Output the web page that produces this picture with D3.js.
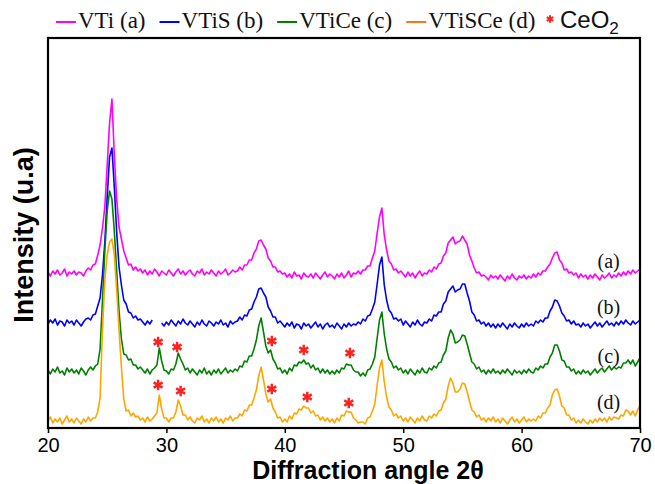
<!DOCTYPE html>
<html>
<head>
<meta charset="utf-8">
<script src="https://cdn.jsdelivr.net/npm/d3@7"></script>
<style>
  body { margin: 0; background: #fff; }
</style>
</head>
<body>
<div id="chart"></div>
<script>
// 2theta grid: 20..70 deg, 0.2 deg step
var angles = d3.range(251).map(function(i) { return +(20 + i * 0.2).toFixed(1); });

// intensities (u.a), stacked patterns
var vti = [
  156,152,157,154,158,153,155,159,152,156,
  154,157,153,156,155,152,157,160,158,163,
  164,173,183,200,221,263,305,329,273,229,
  201,189,177,170,163,164,158,161,157,159,
  155,158,153,157,154,159,156,152,157,155,
  153,158,155,152,156,159,154,157,153,156,
  158,154,152,157,155,159,153,156,154,158,
  155,152,157,154,156,159,153,155,158,156,
  157,161,158,163,163,168,168,175,179,187,
  188,183,179,170,167,161,161,156,157,154,
  155,151,154,150,156,152,153,149,155,152,
  151,154,150,155,152,149,153,156,151,154,
  152,149,154,151,155,150,153,157,151,155,
  154,157,154,158,158,162,162,170,177,195,
  211,220,193,178,167,164,158,159,155,157,
  154,151,156,152,155,150,154,157,152,155,
  154,158,156,161,159,164,165,172,175,185,
  188,191,184,186,187,192,188,184,173,167,
  160,155,156,152,153,151,148,153,150,152,
  149,153,150,147,152,149,154,150,148,152,
  150,153,149,152,150,154,151,155,153,157,
  157,161,164,170,175,176,168,165,158,159,
  155,156,153,155,150,154,151,153,149,153,
  150,154,151,148,153,150,152,155,150,153,
  151,155,152,156,153,157,154,158,155,157,
  159
];
var vtis = [
  104,108,105,109,103,107,106,102,108,105,
  107,103,108,105,102,106,109,110,108,113,
  114,122,130,153,186,231,271,280,241,196,
  161,143,128,124,116,115,110,112,108,109,
  106,103,107,104,108,null,null,null,105,102,
  106,103,108,105,102,107,104,109,105,103,
  107,104,101,106,103,108,104,102,107,105,
  102,106,104,108,103,105,101,107,104,106,
  107,111,108,113,112,118,119,126,131,139,
  140,135,131,121,117,111,111,105,107,104,
  101,105,102,106,100,104,103,99,105,102,
  104,100,103,106,101,104,99,103,105,101,
  103,100,105,102,99,104,101,105,102,104,
  103,106,104,109,107,112,113,119,126,144,
  163,171,143,128,118,115,109,110,107,109,
  103,107,104,101,106,103,108,104,102,106,
  105,109,107,113,112,116,116,124,127,136,
  139,142,136,138,139,144,144,135,127,116,
  113,107,108,104,106,102,105,101,104,100,
  104,101,105,102,99,104,101,105,102,100,
  104,101,105,102,104,102,107,105,108,106,
  110,110,117,121,128,127,122,115,112,107,
  108,104,107,103,104,101,105,102,104,100,
  103,106,102,105,101,104,107,103,105,102,
  106,103,107,104,108,105,103,107,104,106,
  108
];
var vtice = [
  58,54,59,56,61,55,57,53,60,56,
  59,55,58,54,60,57,53,58,61,58,
  62,64,79,127,177,217,237,229,197,157,
  117,89,74,73,68,69,63,63,59,61,
  58,55,59,54,58,60,63,80,67,58,
  57,54,59,58,64,75,69,64,58,60,
  55,59,56,53,58,55,60,54,57,53,
  58,55,59,54,57,60,55,58,56,59,
  57,62,61,67,66,72,72,79,88,102,
  110,96,82,75,78,69,65,59,60,55,
  58,54,60,57,63,62,66,65,68,64,
  65,60,63,58,60,55,59,55,58,54,
  57,54,58,55,60,59,64,63,63,58,
  56,56,52,55,52,58,59,64,71,90,
  108,116,94,79,69,66,60,62,58,60,
  55,58,54,59,56,53,58,55,60,56,
  55,60,58,62,60,65,66,73,77,90,
  98,94,85,86,88,93,92,84,75,66,
  64,59,61,56,58,54,58,55,59,55,
  57,54,58,55,59,56,53,58,55,57,
  54,58,55,59,56,55,60,58,62,60,
  64,64,71,75,83,83,77,68,67,61,
  61,57,59,54,57,54,58,55,57,53,
  56,59,55,58,60,56,59,62,58,61,
  59,61,60,65,65,68,64,68,62,66,
  70
];
var vtisce = [
  7,11,5,9,6,10,4,8,12,6,
  9,5,10,7,4,9,6,11,7,10,
  10,16,30,98,148,173,186,189,173,138,
  98,61,29,17,18,12,15,11,12,8,
  10,6,11,7,9,12,15,33,19,10,
  10,6,10,10,16,28,22,13,13,8,
  11,7,5,10,8,12,6,9,5,10,
  7,11,6,9,5,10,8,12,7,10,
  10,14,12,18,17,23,23,30,38,52,
  61,48,34,26,29,20,16,10,11,6,
  9,6,12,9,15,14,19,18,22,20,
  20,15,17,12,13,8,11,7,10,6,
  9,5,10,7,13,12,17,16,16,10,
  8,5,6,6,4,10,11,17,24,43,
  60,68,46,31,21,18,12,14,10,12,
  7,10,6,11,8,5,10,7,12,8,
  7,12,10,14,12,17,18,25,29,42,
  50,45,36,36,39,45,44,36,27,18,
  16,11,13,8,10,6,10,7,11,6,
  9,5,10,7,4,8,11,6,9,5,
  8,11,6,9,7,9,7,12,10,15,
  15,20,23,33,38,39,32,22,20,13,
  13,8,10,5,8,5,9,6,4,8,
  5,9,6,10,7,10,6,11,8,11,
  10,9,13,12,18,17,13,17,12,18,
  22
];

var seriesNames = ['VTi (a)', 'VTiS (b)', 'VTiCe (c)', 'VTiSCe (d)'];
var seriesColors = ['#ff00ff', '#0000ff', '#008000', '#ffa500'];
var legendColors = ['#ff00ff', '#0000ff', '#008000', '#ff7020'];

// CeO2 reflections marked with stars (angle, level)
var ceAnglesC = [29.3, 30.9, 38.9, 41.6, 45.5];
var ceLevelsC = [86, 81, 87, 78, 75];
var ceAnglesD = [29.3, 31.2, 38.9, 41.9, 45.4];
var ceLevelsD = [43, 37, 39, 31, 25];

var curveLabels = ['(a)', '(b)', '(c)', '(d)'];
var curveLabelLevels = [160, 114, 65, 19];
var curveLabelAngle = 67.35;

var xTicks = [20, 30, 40, 50, 60, 70];

var fullWidth = 655, fullHeight = 484;
var margin = {top: 38, right: 15, bottom: 56, left: 48};
var width = fullWidth - margin.left - margin.right;
var height = fullHeight - margin.top - margin.bottom;

var svg = d3.select('#chart').append('svg')
  .attr('width', fullWidth)
  .attr('height', fullHeight);

var g = svg.append('g')
  .attr('transform', 'translate(' + margin.left + ',' + margin.top + ')');

var x = d3.scaleLinear().domain([20, 70]).range([0, width]);
var y = d3.scaleLinear().domain([0, 390]).range([height, 0]);

var line = d3.line()
  .defined(function(d) { return d != null; })
  .x(function(d, i) { return x(angles[i]); })
  .y(function(d) { return y(d); });

// patterns, (a) drawn first, (d) on top
[vti, vtis, vtice, vtisce].forEach(function(s, k) {
  g.append('path')
    .datum(s)
    .attr('fill', 'none')
    .attr('stroke', seriesColors[k])
    .attr('stroke-width', 1.6)
    .attr('stroke-linejoin', 'round')
    .attr('d', line);
});

// stars
var star = d3.symbol().type(d3.symbolAsterisk).size(75);
function drawStars(angs, levels) {
  g.selectAll(null)
    .data(angs)
    .enter().append('path')
      .attr('d', star)
      .attr('fill', 'none')
      .attr('stroke', '#ff2020')
      .attr('stroke-width', 2.4)
      .attr('transform', function(d, i) {
        return 'translate(' + x(d) + ',' + y(levels[i]) + ')';
      });
}
drawStars(ceAnglesC, ceLevelsC);
drawStars(ceAnglesD, ceLevelsD);

// (a)..(d)
g.selectAll('text.clabel')
  .data(curveLabels)
  .enter().append('text')
    .classed('clabel', true)
    .attr('x', x(curveLabelAngle))
    .attr('y', function(d, i) { return y(curveLabelLevels[i]); })
    .attr('text-anchor', 'middle')
    .style('font-family', '"Liberation Serif", "Times New Roman", serif')
    .style('font-size', '20px')
    .attr('fill', '#111')
    .text(function(d) { return d; });

// x axis
var xAxis = d3.axisBottom(x)
  .tickValues(xTicks)
  .tickSize(5)
  .tickPadding(4.5)
  .tickFormat(d3.format('d'));

var xg = g.append('g')
  .attr('transform', 'translate(0,' + height + ')')
  .call(xAxis);
xg.select('.domain').remove();
xg.selectAll('line').attr('stroke', '#000').attr('stroke-width', 1.5);
xg.selectAll('text')
  .attr('fill', '#000')
  .style('font-family', '"Liberation Sans", Arial, sans-serif')
  .style('font-size', '20px');

// frame
g.append('rect')
  .attr('width', width)
  .attr('height', height)
  .attr('fill', 'none')
  .attr('stroke', '#000')
  .attr('stroke-width', 2.2);

// axis titles
svg.append('text')
  .attr('x', 368)
  .attr('y', 478.7)
  .attr('text-anchor', 'middle')
  .style('font-family', '"Liberation Sans", Arial, sans-serif')
  .style('font-size', '25px')
  .style('font-weight', 'bold')
  .text('Diffraction angle 2θ');

svg.append('text')
  .attr('transform', 'translate(33,235)rotate(-90)')
  .attr('text-anchor', 'middle')
  .style('font-family', '"Liberation Sans", Arial, sans-serif')
  .style('font-size', '27px')
  .style('font-weight', 'bold')
  .text('Intensity (u.a)');

// legend
var legend = svg.append('g').attr('transform', 'translate(0,28)');
var lx = 56;
seriesNames.forEach(function(name, k) {
  legend.append('line')
    .attr('x1', lx).attr('x2', lx + 20)
    .attr('y1', -6).attr('y2', -6)
    .attr('stroke', legendColors[k])
    .attr('stroke-width', 2);
  var t = legend.append('text')
    .attr('x', lx + 22)
    .attr('y', 0)
    .style('font-family', '"Liberation Serif", "Times New Roman", serif')
    .style('font-size', '23px')
    .attr('fill', '#111')
    .text(name);
  lx += 22 + t.node().getComputedTextLength() + 14;
});
legend.append('path')
  .attr('d', d3.symbol().type(d3.symbolAsterisk).size(40))
  .attr('fill', 'none')
  .attr('stroke', '#ff2020')
  .attr('stroke-width', 2)
  .attr('transform', 'translate(550,-9)');
var ceo = legend.append('text')
  .attr('x', 560)
  .attr('y', 0)
  .style('font-family', '"Liberation Sans", Arial, sans-serif')
  .style('font-size', '24px')
  .attr('fill', '#111');
ceo.append('tspan').text('CeO');
ceo.append('tspan').attr('dy', 6).style('font-size', '17px').text('2');
</script>
</body>
</html>
